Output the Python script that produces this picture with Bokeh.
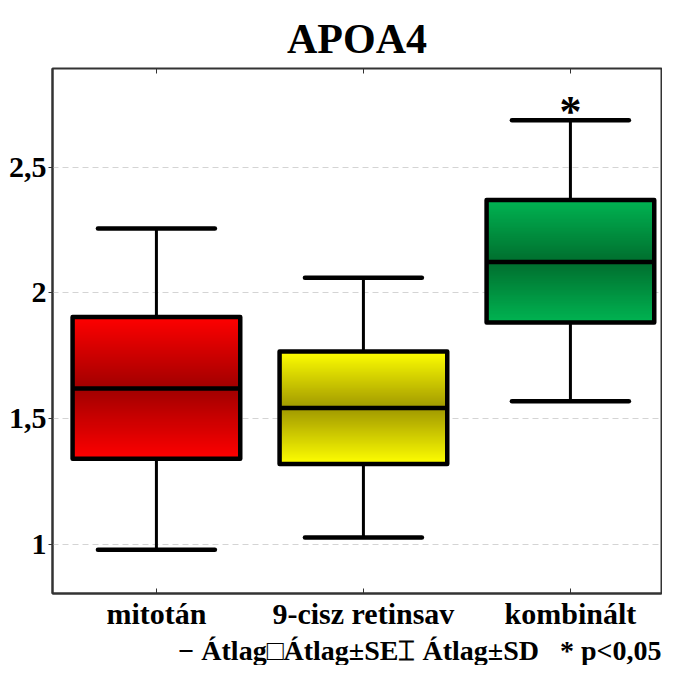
import numpy as np
from bokeh.plotting import figure
from bokeh.models import Range1d, FixedTicker, LinearAxis, Title, ColumnDataSource
from bokeh.embed import file_html
from bokeh.resources import INLINE
from bokeh.core.properties import value

# ---------------- data ----------------
title_text = "APOA4"
categories = ["mitotán", "9-cisz retinsav", "kombinált"]
mean = [1.621, 1.543, 2.123]
se_low = [1.341, 1.321, 1.883]
se_high = [1.905, 1.768, 2.370]
sd_low = [0.980, 1.029, 1.570]
sd_high = [2.256, 2.061, 2.686]
significant = [False, False, True]
y_ticks = [1.0, 1.5, 2.0, 2.5]
y_tick_labels = ["1", "1,5", "2", "2,5"]
legend_text = "\u2212\u00a0Átlag□Átlag±SE⌶\u00a0Átlag±SD\u00a0\u00a0\u00a0* p<0,05"

# ---------------- style ----------------
edge_colors = [(255, 0, 0), (255, 255, 0), (0, 180, 82)]
dark_colors = [(160, 0, 0), (160, 152, 0), (0, 110, 46)]
FONT = "Liberation Serif"
BOX_W = 0.81
CAP_W = 0.565
N_SLICES = 48

xs = list(range(len(categories)))

def hexc(c):
    return "#%02x%02x%02x" % tuple(int(round(v)) for v in c)

# gradient built as overlapping bands (no seams): each band extends to the mean line
gl, gr, gb, gt, gc = [], [], [], [], []
for i, x in enumerate(xs):
    e = np.array(edge_colors[i], float)
    d = np.array(dark_colors[i], float)
    edges = np.linspace(se_low[i], mean[i], N_SLICES + 1)
    for k in range(N_SLICES):
        t = (k + 0.5) / N_SLICES
        gl.append(x - BOX_W / 2); gr.append(x + BOX_W / 2)
        gb.append(edges[k]); gt.append(mean[i])
        gc.append(hexc(e + (d - e) * t))
    edges = np.linspace(se_high[i], mean[i], N_SLICES + 1)
    for k in range(N_SLICES):
        t = (k + 0.5) / N_SLICES
        gl.append(x - BOX_W / 2); gr.append(x + BOX_W / 2)
        gb.append(mean[i]); gt.append(edges[k])
        gc.append(hexc(e + (d - e) * t))
grad = ColumnDataSource(dict(left=gl, right=gr, bottom=gb, top=gt, color=gc))

src = ColumnDataSource(dict(
    x=xs, mean=mean, se_low=se_low, se_high=se_high, sd_low=sd_low, sd_high=sd_high,
    left=[x - BOX_W / 2 for x in xs], right=[x + BOX_W / 2 for x in xs],
    cl=[x - CAP_W / 2 for x in xs], cr=[x + CAP_W / 2 for x in xs],
))

p = figure(width=662, height=665,
           x_range=Range1d(-0.502, 2.44), y_range=Range1d(0.806, 2.892),
           output_backend="svg", toolbar_location=None,
           min_border_left=52, min_border_right=1, min_border_top=68, min_border_bottom=71)
p.background_fill_color = "white"
p.border_fill_color = "white"
p.outline_line_color = "#333333"
p.outline_line_width = 2

p.title.text = title_text
p.title.align = "center"
p.title.offset = 4
p.title.standoff = 14
p.title.text_font = FONT
p.title.text_font_size = "42px"
p.title.text_font_style = "bold"
p.title.text_color = "black"

p.xgrid.visible = False
p.ygrid.ticker = FixedTicker(ticks=y_ticks)
p.ygrid.grid_line_color = "#d4d4d4"
p.ygrid.grid_line_dash = "6 4"
p.ygrid.grid_line_width = 1

# whiskers
p.segment(x0="x", y0="se_high", x1="x", y1="sd_high", source=src, line_color="black", line_width=3)
p.segment(x0="x", y0="sd_low", x1="x", y1="se_low", source=src, line_color="black", line_width=3)
p.segment(x0="cl", y0="sd_high", x1="cr", y1="sd_high", source=src, line_color="black",
          line_width=4.5, line_cap="round")
p.segment(x0="cl", y0="sd_low", x1="cr", y1="sd_low", source=src, line_color="black",
          line_width=4.5, line_cap="round")

# gradient boxes
p.quad(left="left", right="right", bottom="bottom", top="top", source=grad,
       fill_color="color", line_color=None)
p.quad(left="left", right="right", bottom="se_low", top="se_high", source=src,
       fill_color=None, line_color="black", line_width=4.5, line_join="round")
p.segment(x0="left", y0="mean", x1="right", y1="mean", source=src, line_color="black", line_width=4.5)

# significance marks
sx = [x for x, s in zip(xs, significant) if s]
sy = [h for h, s in zip(sd_high, significant) if s]
p.text(x=sx, y=sy, text=["*"] * len(sx), text_align="center", text_baseline="alphabetic",
       y_offset=-9, text_font=value(FONT), text_font_size="44px", text_font_style="bold",
       text_color="black")

# axes
xa = p.xaxis[0]
xa.ticker = FixedTicker(ticks=xs)
xa.major_label_overrides = {x: c for x, c in zip(xs, categories)}
xa.major_label_text_font = FONT
xa.major_label_text_font_size = "30px"
xa.major_label_text_font_style = "bold"
xa.major_label_text_color = "black"
xa.major_tick_in = 5
xa.major_tick_out = 0
xa.minor_tick_line_color = None
xa.axis_line_color = "#333333"
xa.axis_line_width = 2
xa.major_tick_line_color = "#333333"
xa.major_label_standoff = 3

ya = p.yaxis[0]
ya.ticker = FixedTicker(ticks=y_ticks)
ya.major_label_overrides = {t: l for t, l in zip(y_ticks, y_tick_labels)}
ya.major_label_text_font = FONT
ya.major_label_text_font_size = "30px"
ya.major_label_text_font_style = "bold"
ya.major_label_text_color = "black"
ya.major_tick_in = 0
ya.major_tick_out = 4
ya.minor_tick_line_color = None
ya.axis_line_color = "#333333"
ya.axis_line_width = 2
ya.major_tick_line_color = "#333333"
ya.major_label_standoff = 2

top_axis = LinearAxis(ticker=FixedTicker(ticks=xs), major_label_text_font_size="1px",
                      major_label_text_color=None,
                      major_tick_in=5, major_tick_out=0, minor_tick_line_color=None,
                      axis_line_color="#333333", major_tick_line_color="#333333",
                      major_label_standoff=0)
p.add_layout(top_axis, "above")

legend = Title(text=legend_text, align="right", text_font=FONT, text_font_size="28px",
               text_font_style="bold", text_color="black", standoff=0)
p.add_layout(legend, "below")

open("out.html", "w").write(file_html(p, INLINE))
